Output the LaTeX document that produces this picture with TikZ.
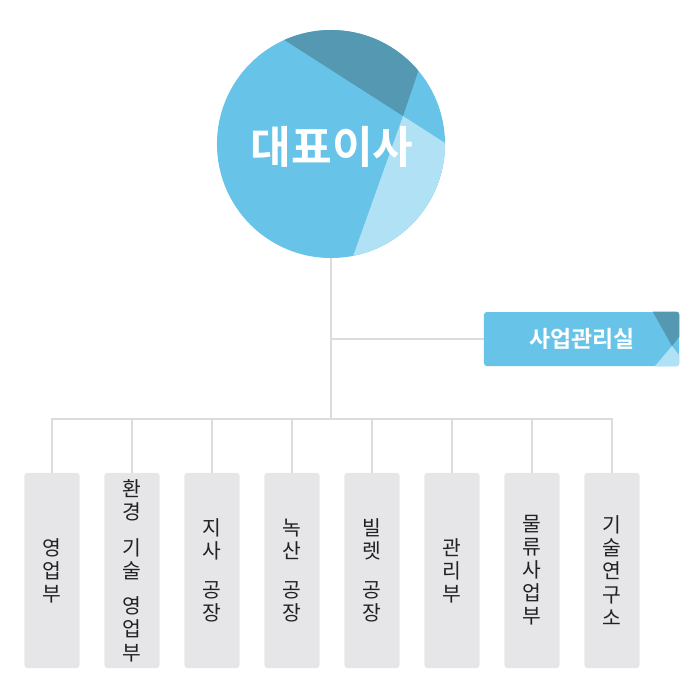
\documentclass[tikz,border=0pt]{standalone}
\usepackage{fontspec}
\setmainfont{Noto Sans CJK KR}
\newfontfamily\krbold{Noto Sans CJK KR Bold}
\usepackage{xcolor}
\definecolor{mainblue}{HTML}{67C3E7}
\definecolor{darkteal}{HTML}{5499B1}
\definecolor{lightblue}{HTML}{B1E1F4}
\definecolor{linegray}{HTML}{DCDCDC}
\definecolor{boxgray}{HTML}{E6E6E8}
\definecolor{textgray}{HTML}{222222}
\tikzset{
  wire/.style={draw=linegray, line width=1.1pt},
  deptbox/.style={fill=boxgray, rounded corners=2pt, minimum width=1.375cm,
    minimum height=4.875cm, inner sep=0pt, text=textgray, align=center,
    font=\fontsize{14.5}{16.4}\selectfont},
}

\begin{document}
\begin{tikzpicture}[x=0.025cm, y=-0.025cm]
              \useasboundingbox (0,0) rectangle (700,700);
              % CEO circle
              \node[circle, fill=mainblue, minimum size=5.7cm, inner sep=0pt] (ceo) at (331,144) {};
              \begin{scope}
                \clip (331,144) circle (114);
                \fill[darkteal] (403,116) -- (169,-34) -- (300,-150) -- (448,-16) -- cycle;
                \fill[lightblue] (403,116) -- (529,197) -- (450,300) -- (329,324) -- cycle;
              \end{scope}
              \node[text=white, font=\krbold\fontsize{31.5}{31.5}\selectfont] (ceotext) at (332,147) {대표이사};
              % office
              \node[fill=mainblue, rounded corners=2pt, minimum width=4.875cm, minimum height=1.35cm, inner sep=0pt] (office) at (581.5,339) {};
              \begin{scope}
                \clip[rounded corners=2pt] (office.south west) rectangle (office.north east);
                \fill[darkteal] (649,305) -- (690,305) -- (690,333) -- (679,337) -- (672,346) -- cycle;
                \fill[lightblue] (672,346) -- (679,355) -- (690,355) -- (690,375) -- (650,375) -- (655,366) -- cycle;
              \end{scope}
              \node[text=white, font=\krbold\fontsize{16.3}{16.3}\selectfont] (officetext) at (582,339) {사업관리실};
              % departments
              \foreach \i/\name in {1/영\\업\\부, 2/환\\경\\[9pt]기\\술\\[9pt]영\\업\\부, 3/지\\사\\[11pt]공\\장, 4/녹\\산\\[11pt]공\\장,
                                    5/빌\\렛\\[11pt]공\\장, 6/관\\리\\부, 7/물\\류\\사\\업\\부, 8/기\\술\\연\\구\\소}
                \node[deptbox] (dept\i) at ({52+80*(\i-1)},570.5) {\name};
              \coordinate (hub) at (331,419);
              \coordinate (fork) at (331,339);
              \draw[wire] (ceo.south) -- (hub);
              \draw[wire] (fork) -- (office.west);
              \draw[wire] (dept1.north) |- (hub) -| (dept8.north);
              \foreach \i in {2,...,7}
                \draw[wire] (dept\i.north) -- (dept\i.north |- hub);
            \end{tikzpicture}
\end{document}
